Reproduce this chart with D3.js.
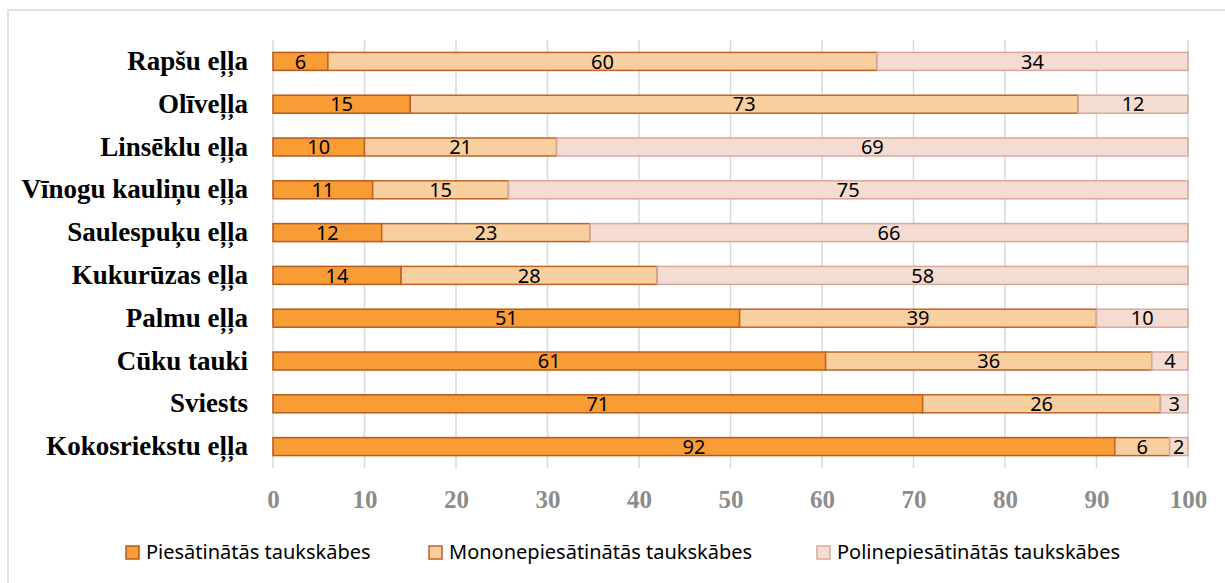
<!DOCTYPE html>
<html>
<head>
  <meta charset="utf-8">
  <title>Taukskābju sastāvs</title>
  <script src="https://d3js.org/d3.v7.min.js"></script>
  <style>
    body { margin: 0; background: #fff; }
    .cat text { font-family: "Liberation Serif", "Times New Roman", serif; font-weight: bold; font-size: 27px; fill: #000; }
    .xaxis text { font-family: "Liberation Serif", "Times New Roman", serif; font-weight: bold; font-size: 25px; fill: #8c8c8c; }
    .lbl { font-family: "Noto Sans", "Open Sans", sans-serif; font-size: 20px; fill: #000; }
    .leg { font-family: "Noto Sans", "Open Sans", sans-serif; font-size: 20px; fill: #000; }
  </style>
</head>
<body>
  <svg width="1225" height="583"></svg>

  <script>
    const categories = ["Rapšu eļļa", "Olīveļļa", "Linsēklu eļļa", "Vīnogu kauliņu eļļa", "Saulespuķu eļļa",
                        "Kukurūzas eļļa", "Palmu eļļa", "Cūku tauki", "Sviests", "Kokosriekstu eļļa"];
    const saturated = [6, 15, 10, 11, 12, 14, 51, 61, 71, 92];
    const mono      = [60, 73, 21, 15, 23, 28, 39, 36, 26, 6];
    const poly      = [34, 12, 69, 75, 66, 58, 10, 4, 3, 2];
    const seriesNames = ["Piesātinātās taukskābes", "Mononepiesātinātās taukskābes", "Polinepiesātinātās taukskābes"];
    const xTicks = [0, 10, 20, 30, 40, 50, 60, 70, 80, 90, 100];

    const fills   = ["#f89c36", "#f8cf9f", "#f5dcd2"];
    const strokes = ["#b9581f", "#c0622a", "#d9a69b"];

    const svg = d3.select("svg");

    // outer chart frame (runs off the right / bottom edge)
    svg.append("rect")
      .attr("x", 8).attr("y", 10).attr("width", 1240).attr("height", 600)
      .attr("fill", "none").attr("stroke", "#d9d9d9").attr("stroke-width", 1.5);

    const x = d3.scaleLinear().domain([0, 100]).range([273, 1188]);
    const y = d3.scaleBand().domain(categories).range([40, 468])
      .paddingInner(0.58).paddingOuter(0.29);

    // gridlines
    svg.append("g").selectAll("line").data(xTicks).join("line")
      .attr("x1", d => x(d)).attr("x2", d => x(d))
      .attr("y1", 40).attr("y2", 468)
      .attr("stroke", "#d9d9d9").attr("stroke-width", 1.5);

    // 100% stacked rows
    const rows = categories.map((c, i) => {
      const vals = [saturated[i], mono[i], poly[i]];
      const tot = d3.sum(vals);
      let acc = 0;
      return vals.map((v, k) => {
        const s = { cat: c, k: k, v: v, x0: acc / tot * 100, x1: (acc + v) / tot * 100 };
        acc += v;
        return s;
      });
    }).flat();

    svg.append("g").selectAll("rect").data(rows).join("rect")
      .attr("x", d => x(d.x0))
      .attr("y", d => y(d.cat))
      .attr("width", d => x(d.x1) - x(d.x0))
      .attr("height", y.bandwidth())
      .attr("fill", d => fills[d.k])
      .attr("stroke", d => strokes[d.k])
      .attr("stroke-width", 1.5);

    svg.append("g").selectAll("text").data(rows).join("text")
      .attr("class", "lbl")
      .attr("x", d => (x(d.x0) + x(d.x1)) / 2)
      .attr("y", d => y(d.cat) + y.bandwidth() / 2)
      .attr("dy", "0.36em")
      .attr("text-anchor", "middle")
      .text(d => d.v);

    // category axis
    svg.append("g").attr("class", "cat")
      .attr("transform", "translate(273,0)")
      .call(d3.axisLeft(y).tickSize(0).tickPadding(25))
      .call(g => g.select(".domain").remove());

    // value axis
    svg.append("g").attr("class", "xaxis")
      .attr("transform", "translate(0,468)")
      .call(d3.axisBottom(x).tickValues(xTicks).tickSize(0).tickPadding(22))
      .call(g => g.select(".domain").remove());

    // legend
    const legX = [126, 429, 817];
    const leg = svg.append("g").selectAll("g").data(seriesNames).join("g")
      .attr("transform", (d, i) => `translate(${legX[i]},546)`);
    leg.append("rect")
      .attr("width", 13).attr("height", 13)
      .attr("fill", (d, i) => fills[i])
      .attr("stroke", (d, i) => strokes[i])
      .attr("stroke-width", 1.5);
    leg.append("text").attr("class", "leg")
      .attr("x", 20).attr("y", 13)
      .text(d => d);
  </script>
</body>
</html>
